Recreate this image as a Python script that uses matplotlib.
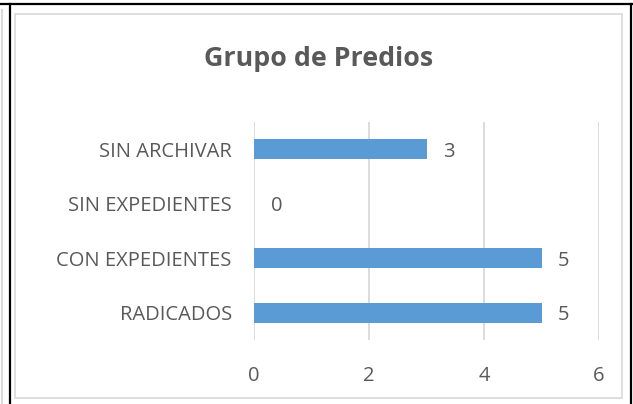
import matplotlib
matplotlib.use("Agg")
import matplotlib.pyplot as plt
from matplotlib.lines import Line2D
from matplotlib.patches import Rectangle

# chart data
categories = ["RADICADOS", "CON EXPEDIENTES", "SIN EXPEDIENTES", "SIN ARCHIVAR"]
values = [5, 5, 0, 3]
xticks = [0, 2, 4, 6]
title = "Grupo de Predios"

barColor = "#5B9BD5"
gridColor = "#D9D9D9"
textColor = "#595959"

plt.rcParams['font.family'] = ['Open Sans', 'DejaVu Sans']

W, H = 633, 404
fig = plt.figure(figsize=(W / 100, H / 100), dpi=100)


def px(x, y):
    # pixel coords (top-left origin) -> figure fraction
    return x / W, 1 - y / H


# table cell borders around the chart
fig.add_artist(Line2D([0, 1], [px(0, 4)[1]] * 2, color="black", linewidth=1.6))
fig.add_artist(Line2D([px(10, 0)[0]] * 2, [0, px(0, 4)[1]], color="black", linewidth=1.6))
fig.add_artist(Line2D([px(631, 0)[0]] * 2, [0, px(0, 4)[1]], color="black", linewidth=1.6))
fig.add_artist(Line2D([px(1.5, 0)[0]] * 2, [0, px(0, 10)[1]], color=gridColor, linewidth=1.5))

# chart area border
x0, y0 = px(15, 398)
x1, y1 = px(622, 14)
fig.add_artist(Rectangle((x0, y0), x1 - x0, y1 - y0, transform=fig.transFigure,
                         fill=False, edgecolor=gridColor, linewidth=1.2))

left, top = px(254, 122)
right, bottom = px(599, 340)
ax = fig.add_axes([left, bottom, right - left, top - bottom])

bars = ax.barh(range(len(categories)), values, height=0.36, color=barColor, zorder=3)
for i, v in enumerate(values):
    ax.annotate(str(v), (v, i), xytext=(12, 0), textcoords="offset points",
                ha="left", va="center_baseline", fontsize=14.5, color=textColor)

ax.set_xlim(0, 6)
ax.set_ylim(-0.5, len(categories) - 0.5)
ax.set_xticks(xticks)
ax.set_xticklabels([str(t) for t in xticks])
ax.set_yticks(range(len(categories)))
ax.set_yticklabels(categories)
ax.grid(axis="x", color=gridColor, linewidth=1.3, zorder=0)
for s in ax.spines.values():
    s.set_visible(False)
ax.tick_params(axis="both", length=0, labelsize=14.5, labelcolor=textColor)
ax.tick_params(axis="x", pad=18.5)
ax.tick_params(axis="y", pad=16)

fig.text(px(319, 0)[0], px(0, 58.5)[1], title, ha="center", va="center",
         fontsize=19.3, fontweight="bold", color=textColor)

fig.savefig("out.png", dpi=100)
